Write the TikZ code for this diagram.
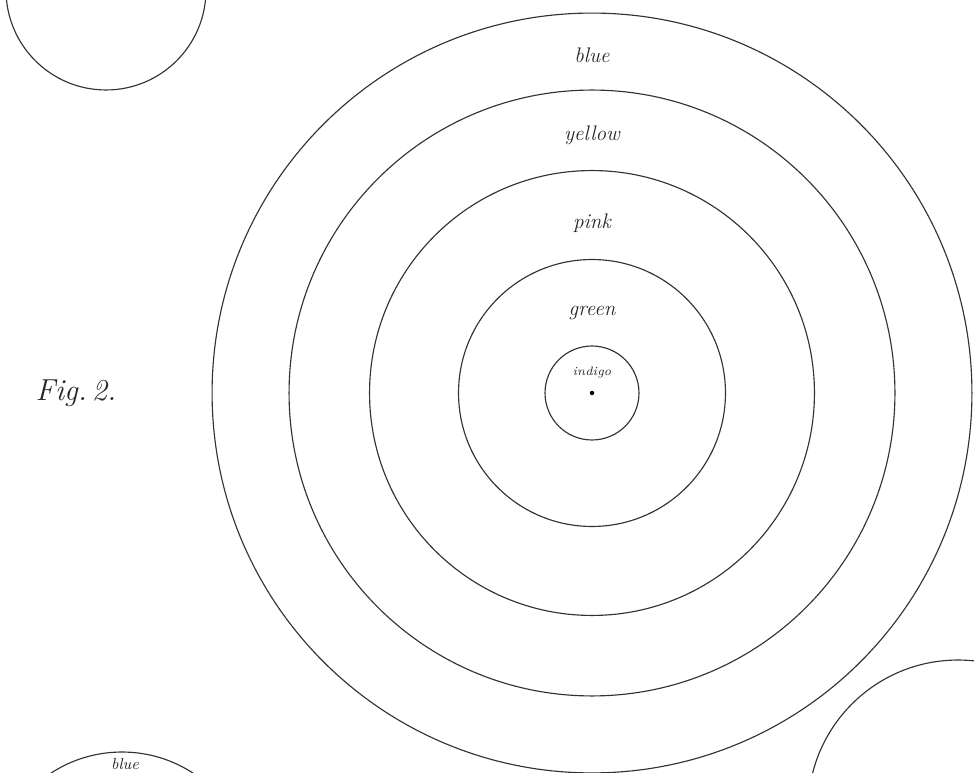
\documentclass[tikz,border=0pt]{standalone}
\tikzset{
  ring/.style={draw=black!80, line width=0.65pt},
  lbl/.style={font=\itshape\large, inner sep=0pt, text=black!85},
}
\begin{document}
\begin{tikzpicture}[x=0.02cm,y=-0.02cm]
\useasboundingbox (0,0) rectangle (974,773);
\clip (0,0) rectangle (974,773);
\coordinate (C) at (592,393);
% concentric rings
\draw[ring] (C) circle[radius=0.94cm];
\draw[ring] (C) circle[radius=2.67cm];
\draw[ring] (C) circle[radius=4.45cm];
\draw[ring] (C) circle[radius=6.06cm];
\draw[ring] (C) circle[radius=7.6cm];
\fill[black] (C) circle[radius=0.045cm];
% labels
\node[lbl] (lblue) at (592,55) {blue};
\node[lbl] (lyellow) at (592,135) {yellow};
\node[lbl] (lpink) at (592,223) {pink};
\node[lbl] (lgreen) at (592,313) {green};
\node[lbl, font=\itshape\scriptsize] (lindigo) at (592,372) {indigo};
% neighbouring figures
\coordinate (TL) at (106,-10);
\draw[ring] (TL) circle[radius=2cm];
\coordinate (BL) at (122,882);
\draw[ring] (BL) circle[radius=2.6cm];
\node[lbl, font=\itshape\small] (lblue2) at (125,764) {blue};
\coordinate (BR) at (958,810);
\draw[ring] (BR) circle[radius=3cm];
% figure label
\node[lbl, font=\itshape\LARGE] (fig) at (76,393) {Fig.\,2.};
\end{tikzpicture}
\end{document}
